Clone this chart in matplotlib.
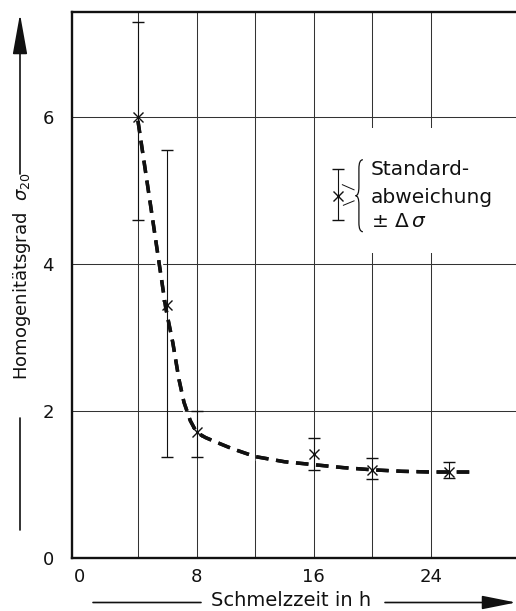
import matplotlib
matplotlib.use('Agg')
import matplotlib.pyplot as plt
from matplotlib.path import Path
from matplotlib.patches import PathPatch, Rectangle
import matplotlib.patheffects as pe

plt.rcParams['lines.scale_dashes'] = False

# ---------------- data ----------------
time_h = [4, 6, 8, 16, 20, 25.2]
sigma = [6.0, 3.44, 1.71, 1.41, 1.20, 1.17]
err_low = [4.6, 1.37, 1.37, 1.20, 1.07, 1.09]
err_high = [7.3, 5.55, 2.0, 1.63, 1.36, 1.31]

curve_x = [4.0, 4.95, 5.9, 6.38, 6.8, 7.14, 7.57, 8.0, 8.6, 9.3, 10.4,
           12.0, 14.0, 16.0, 18.0, 20.0, 22.0, 24.0, 26.7]
curve_y = [5.95, 4.68, 3.4, 2.93, 2.43, 2.12, 1.87, 1.71, 1.64, 1.58, 1.49,
           1.38, 1.31, 1.27, 1.23, 1.20, 1.18, 1.17, 1.17]

x_ticks = [0, 8, 16, 24]
y_ticks = [0, 2, 4, 6]
x_grid = [4, 8, 12, 16, 20, 24]
y_grid = [2, 4, 6]

legend_x = 17.66
legend_y = 4.93
legend_lo = 4.6
legend_hi = 5.29
legend_lines = ["Standard-", "abweichung", r"$\pm\ \mathit{\Delta}\,\sigma$"]

x_label = "Schmelzzeit in h"
y_label = r"Homogenitätsgrad  $\sigma_{20}$"

# ---------------- figure ----------------
W, H = 516, 611
fig = plt.figure(figsize=(W / 100, H / 100), dpi=100)
ax = fig.add_axes([72 / W, (H - 558) / H, 1 - 72 / W, (558 - 12) / H])
ax.set_xlim(-0.5, 29.8)
ax.set_ylim(0, 7.43)

FS = 13
ink = '#111111'

for gx in x_grid:
    ax.axvline(gx, color='#333333', lw=0.75, zorder=0.5)
for gy in y_grid:
    ax.axhline(gy, color='#333333', lw=0.75, zorder=0.5)

# white area behind the legend text (grid interrupted there)
ax.add_patch(Rectangle((16.6, 4.15), 14, 1.7, facecolor='white',
                       edgecolor='none', zorder=0.8))

# fitted dashed curve
ln, = ax.plot(curve_x, curve_y, color=ink, lw=2.5, zorder=2,
              dash_capstyle='butt')
ln.set_dashes((9.0, 5.5))
ln.set_path_effects([pe.withStroke(linewidth=5.5, foreground='white'), pe.Normal()])

# data points with error bars
yerr = [[s - lo for s, lo in zip(sigma, err_low)],
        [hi - s for s, hi in zip(sigma, err_high)]]
ax.errorbar(time_h, sigma, yerr=yerr, fmt='x', color=ink, ms=7, mew=1.0,
            elinewidth=0.8, capsize=4.5, capthick=0.8, zorder=3)

# legend symbol
ax.errorbar([legend_x], [legend_y],
            yerr=[[legend_y - legend_lo], [legend_hi - legend_y]],
            fmt='x', color=ink, ms=7, mew=1.0, elinewidth=0.8,
            capsize=4.5, capthick=0.8, zorder=3)
ax.plot([17.95, 18.75], [5.08, 5.01], color=ink, lw=0.7, zorder=3)
ax.plot([18.02, 18.75], [4.80, 4.86], color=ink, lw=0.7, zorder=3)

# curly brace
bx_end, bx_sp, bx_tip = 19.35, 19.08, 18.85
by_top, by_mid, by_bot = 5.42, 4.93, 4.44
verts = [(bx_end, by_top), (bx_sp, by_top), (bx_sp, by_top - 0.12),
         (bx_sp, by_mid + 0.12), (bx_sp, by_mid), (bx_tip, by_mid),
         (bx_sp, by_mid), (bx_sp, by_mid - 0.12),
         (bx_sp, by_bot + 0.12), (bx_sp, by_bot), (bx_end, by_bot)]
codes = [Path.MOVETO, Path.CURVE3, Path.CURVE3,
         Path.LINETO, Path.CURVE3, Path.CURVE3,
         Path.CURVE3, Path.CURVE3,
         Path.LINETO, Path.CURVE3, Path.CURVE3]
ax.add_patch(PathPatch(Path(verts, codes), facecolor='none',
                       edgecolor=ink, lw=0.9, zorder=3))

for txt, yy in zip(legend_lines, [5.21, 4.83, 4.51]):
    ax.text(19.9, yy, txt, fontsize=14.5, color=ink, va='baseline',
            ha='left', zorder=4)

# axes styling
ax.set_xticks(x_ticks)
ax.set_yticks(y_ticks)
ax.tick_params(length=0, labelsize=FS, colors=ink)
ax.tick_params(axis='x', pad=7)
ax.tick_params(axis='y', pad=13)
ax.spines['right'].set_visible(False)
for s in ['left', 'bottom', 'top']:
    ax.spines[s].set_linewidth(1.7)
    ax.spines[s].set_color(ink)

# axis titles with arrows (figure pixel coordinates)
fig.text(22 / W, (H - 276) / H, y_label, rotation=90, fontsize=FS,
         ha='center', va='center', color=ink)
fig.text(291 / W, (H - 601) / H, x_label, fontsize=14,
         ha='center', va='center', color=ink)

def fpx(x, y):
    return (x, H - y)

arrow_kw = dict(xycoords='figure pixels', textcoords='figure pixels',
                annotation_clip=False)
# y axis arrow
ax.annotate('', xy=fpx(20, 530), xytext=fpx(20, 418),
            arrowprops=dict(arrowstyle='-', lw=1.2, color=ink,
                            shrinkA=0, shrinkB=0), **arrow_kw)
ax.annotate('', xy=fpx(20, 14), xytext=fpx(20, 174),
            arrowprops=dict(arrowstyle='-|>,head_length=2.5,head_width=0.45',
                            lw=1.2, color=ink, shrinkA=0, shrinkB=0),
            **arrow_kw)
# x axis arrow
ax.annotate('', xy=fpx(93, 602.5), xytext=fpx(201, 602.5),
            arrowprops=dict(arrowstyle='-', lw=1.2, color=ink,
                            shrinkA=0, shrinkB=0), **arrow_kw)
ax.annotate('', xy=fpx(516, 602.5), xytext=fpx(385, 602.5),
            arrowprops=dict(arrowstyle='-|>,head_length=2.1,head_width=0.42',
                            lw=1.2, color=ink, shrinkA=0, shrinkB=0),
            **arrow_kw)

fig.savefig('out.png', dpi=100)
